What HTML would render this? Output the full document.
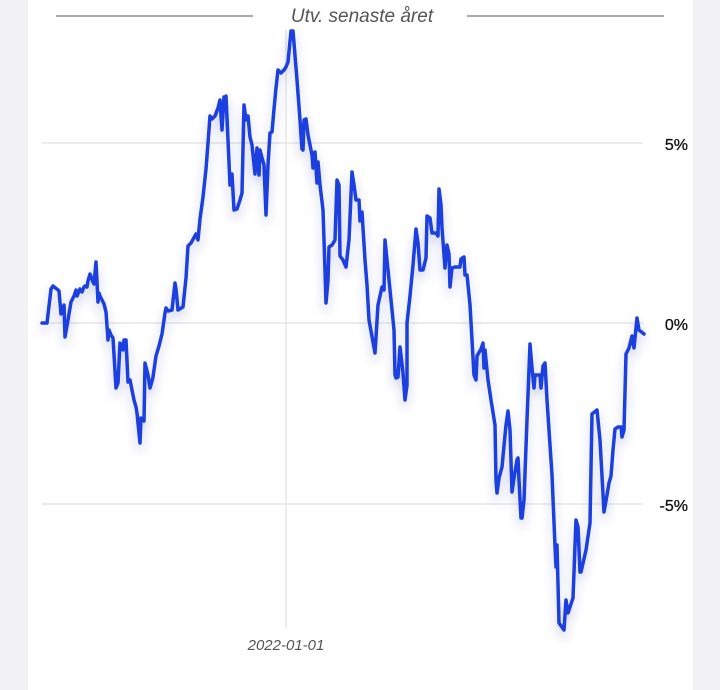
<!DOCTYPE html>
<html><head><meta charset="utf-8"><style>
html,body{margin:0;padding:0;width:720px;height:690px;overflow:hidden;background:#f2f2f4;}
</style></head><body>
<svg width="720" height="690" viewBox="0 0 720 690" xmlns="http://www.w3.org/2000/svg" style="position:absolute;left:0;top:0">
<defs><filter id="sh" x="-10%" y="-10%" width="120%" height="130%"><feDropShadow dx="0" dy="6" stdDeviation="5" flood-color="#2a3aa8" flood-opacity="0.25"/></filter></defs>
<rect x="28" y="0" width="665" height="690" fill="#ffffff"/>
<line x1="56" y1="16" x2="253" y2="16" stroke="#555" stroke-width="1"/>
<line x1="467" y1="16" x2="664" y2="16" stroke="#555" stroke-width="1"/>
<text x="362" y="22" text-anchor="middle" font-family="Liberation Sans, sans-serif" font-style="italic" font-size="19" fill="#555">Utv. senaste året</text>
<g stroke="#e6e6e6" stroke-width="1.5">
<line x1="42" y1="143" x2="643" y2="143"/>
<line x1="42" y1="323" x2="643" y2="323"/>
<line x1="42" y1="504" x2="643" y2="504"/>
<line x1="286" y1="30" x2="286" y2="628"/>
</g>
<g font-family="Liberation Sans, sans-serif" font-size="16" fill="#111" text-anchor="end" stroke="#111" stroke-width="0.3">
<text x="688" y="150">5%</text>
<text x="688" y="330">0%</text>
<text x="688" y="511">-5%</text>
</g>
<text x="286" y="650" text-anchor="middle" font-family="Liberation Sans, sans-serif" font-style="italic" font-size="15" fill="#555">2022-01-01</text>
<polyline filter="url(#sh)" fill="none" stroke="#1a3fe0" stroke-width="3.5" stroke-linejoin="round" stroke-linecap="round" points="42,323 47,323 51,289 53,286 58,290 59,291 61,314 62,311 64,305 65,337 68,320 71,302 74,296 76,290 77,296 80,289 82,292 84,287 85,286 87,287 88,281 90,274 93,282 94,284 96,262 98,302 99,293 100,296 104,304 106,312 108,340 109,330 111,335 113,338 116,388 118,383 120,343 121,345 123,350 124,340 126,340 128,382 130,380 133,395 134,400 136,407 137,413 140,443 141,418 144,421 145,363 148,375 150,388 152,381 153,377 156,356 159,346 162,334 165,313 166,308 168,311 172,310 175,283 176,289 178,310 183,307 186,278 188,246 191,243 196,234 198,240 200,219 203,197 206,169 208,143 210,116 212,119 215,116 218,108 220,100 222,130 224,97 225,100 226,96 228,140 230,185 232,174 234,210 237,209 240,200 242,193 244,105 246,120 248,116 250,137 252,145 255,174 257,148 259,175 260,150 262,158 264,165 266,215 268,165 270,133 272,132 274,109 276,88 278,70 281,73 284,70 286,67 288,62 291,31 293,31 297,80 300,120 302,149 303,150 304,120 306,119 308,135 310,145 312,155 313,168 315,152 316,168 317,183 318,162 320,185 323,210 325,270 326,303 328,280 329,247 332,245 335,240 337,180 339,185 340,256 343,260 346,267 349,240 352,172 354,185 356,200 359,200 360,221 362,212 365,260 367,285 369,320 375,353 378,305 382,287 384,290 385,240 388,270 391,300 394,330 395,375 396,378 398,377 400,347 403,373 405,400 407,385 407,323 410,296 413,265 416,229 418,243 420,270 423,270 426,258 427,216 430,218 432,233 436,233 438,236 439,189 441,205 442,228 445,268 447,245 449,254 450,287 452,268 455,267 460,267 461,259 464,257 465,275 467,275 470,305 472,340 474,375 476,380 477,356 481,349 483,343 484,368 485,350 488,380 491,400 495,425 496,480 497,493 499,478 502,467 506,425 508,411 510,430 512,492 514,478 517,460 518,458 519,480 521,518 522,518 524,500 527,420 530,344 532,368 534,388 535,375 540,375 541,388 543,366 545,363 547,400 552,475 555,546 556,567 557,545 559,623 564,630 566,600 568,613 573,598 576,520 578,527 580,572 581,572 586,550 590,523 592,414 597,410 600,440 604,512 607,495 609,483 611,476 613,450 615,429 618,427 621,427 622,437 624,430 626,354 629,348 632,336 634,348 637,318 639,330 644,334"/>
</svg>
</body></html>
